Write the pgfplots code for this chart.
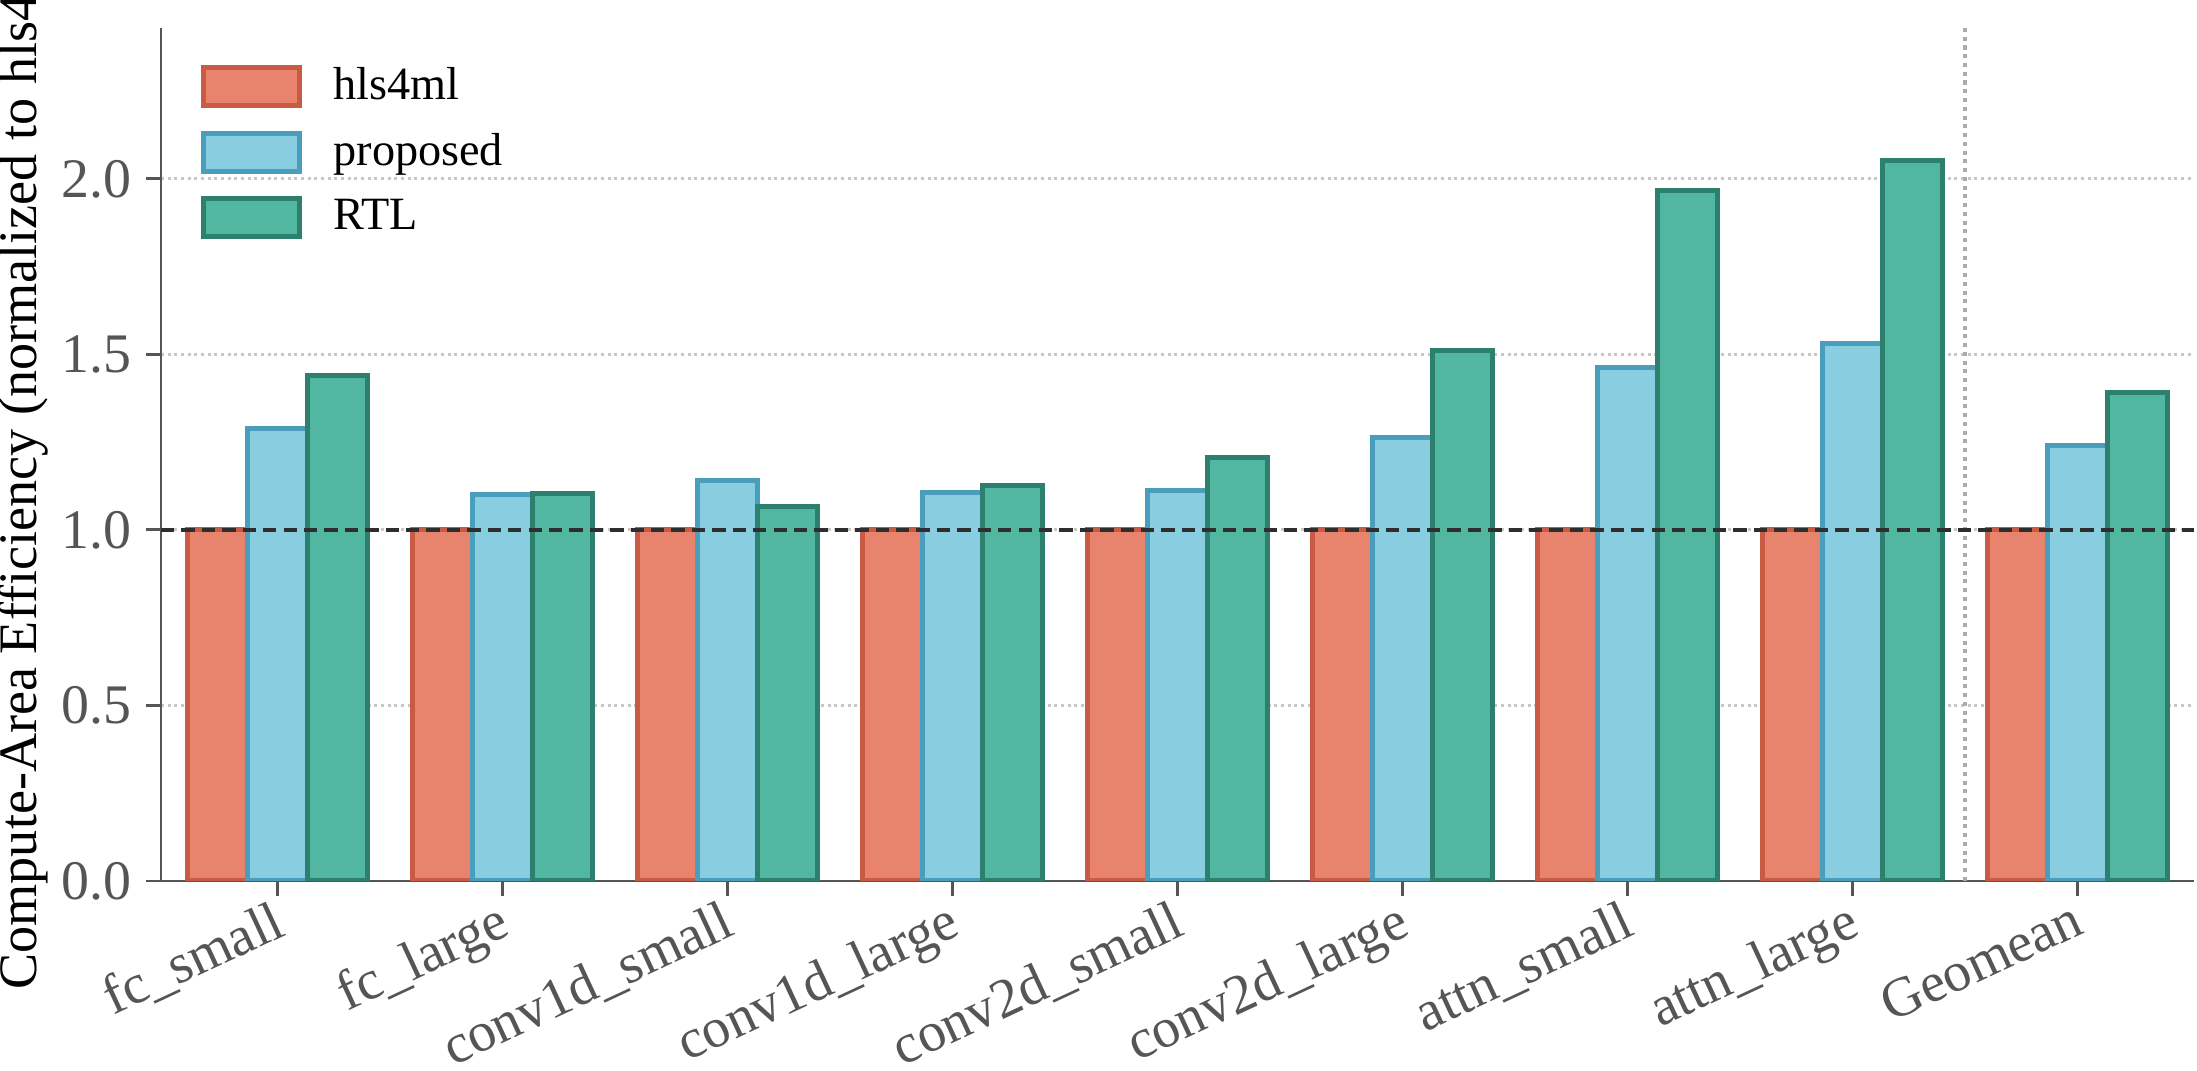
\documentclass[border=0pt]{standalone}
\usepackage{pgfplots}
\pgfplotsset{compat=1.18}
\usepackage{fontspec}
\setmainfont{Liberation Serif}
\definecolor{hlsfill}{HTML}{E8836E}
\definecolor{hlsedge}{HTML}{C95A44}
\definecolor{propfill}{HTML}{88CEE0}
\definecolor{propedge}{HTML}{4A9EBC}
\definecolor{rtlfill}{HTML}{51B7A0}
\definecolor{rtledge}{HTML}{2E806E}
\definecolor{spine}{HTML}{555555}

\pgfplotsset{mylegend/.style={legend image code/.code={\draw[##1] (0pt,-4.5pt) rectangle (23.2pt,4.5pt);}}}

\pgfplotstableread{
x hls prop rtl
0 1.0 1.290 1.440
1 1.0 1.100 1.103
2 1.0 1.140 1.068
3 1.0 1.108 1.128
4 1.0 1.112 1.205
5 1.0 1.262 1.510
6 1.0 1.462 1.968
7 1.0 1.530 2.052
8 1.0 1.240 1.392
}\datatable

\begin{document}
\begin{tikzpicture}
\begin{axis}[
  name=ax,
  scale only axis,
  width=487.9pt, height=204.7pt,
  xmin=-0.52, xmax=8.52, ymin=0, ymax=2.43,
  axis lines*=left,
  axis line style={draw=spine, line width=0.7pt, -},
  tick style={draw=spine, line width=0.7pt},
  tick align=outside,
  major tick length=3.6pt,
  xtick={0,1,2,3,4,5,6,7,8},
  xticklabels={fc\_small,fc\_large,conv1d\_small,conv1d\_large,conv2d\_small,conv2d\_large,attn\_small,attn\_large,Geomean},
  xticklabel style={yshift=4pt, rotate=25, anchor=north east, font=\fontsize{13.4}{14}\selectfont, text=spine},
  ytick={0,0.5,1,1.5,2},
  yticklabel style={font=\fontsize{13.4}{14}\selectfont, text=spine, /pgf/number format/.cd, fixed, fixed zerofill, precision=1},
  /pgf/number format/assume math mode=true,
  ymajorgrids,
  grid style={draw=black!22, line width=0.7pt, dash pattern=on 0.7pt off 0.9pt},
  ylabel={Compute-Area Efficiency (normalized to hls4ml)},
  ylabel style={at={(axis description cs:-0.0677,0.5)}, anchor=center, font=\fontsize{13}{14}\selectfont, text=black},
  ybar, bar width=0.2667,
  legend style={at={(0,1)}, anchor=north west, xshift=6.3pt, yshift=-5.3pt, draw=none, fill=none,
    font=\fontsize{11.1}{12}\selectfont, row sep=2.6pt, column sep=5.5pt},
  legend cell align=left,
]
\addplot[forget plot, draw=black!33, line width=1pt, dash pattern=on 1pt off 1.1pt, sharp plot] coordinates {(7.5,0) (7.5,2.43)};
\addplot[ybar, bar shift=-0.2667, fill=hlsfill, draw=hlsedge, line width=1.2pt, mylegend] table[x=x, y=hls] {\datatable};
\addlegendentry{hls4ml}
\addplot[ybar, bar shift=0, fill=propfill, draw=propedge, line width=1.2pt, mylegend] table[x=x, y=prop] {\datatable};
\addlegendentry{proposed}
\addplot[ybar, bar shift=0.2667, fill=rtlfill, draw=rtledge, line width=1.2pt, mylegend] table[x=x, y=rtl] {\datatable};
\addlegendentry{RTL}
\addplot[forget plot, sharp plot, draw=black!82, line width=1.1pt, dash pattern=on 3.2pt off 1.7pt] coordinates {(-0.52,1) (8.52,1)};
\end{axis}
\pgfresetboundingbox
\path[use as bounding box] ([xshift=-38.64pt, yshift=-45.6pt]ax.south west) rectangle ([xshift=0.7pt, yshift=6.72pt]ax.north east);
\end{tikzpicture}
\end{document}
